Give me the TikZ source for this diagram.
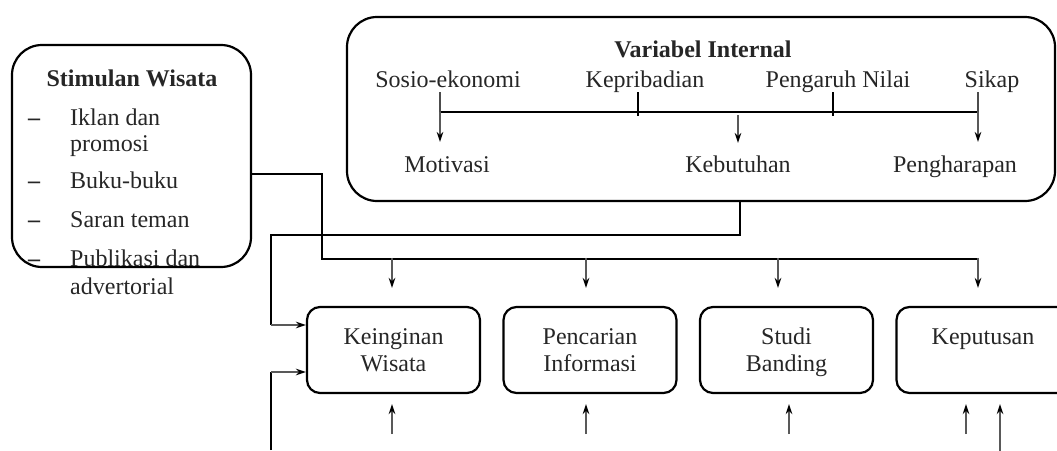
\documentclass[tikz,border=0pt]{standalone}
\usepackage{fontspec}
\setmainfont{Liberation Serif}
\usetikzlibrary{arrows.meta}

\begin{document}
\begin{tikzpicture}[x=1pt, y=-1pt,
	txt/.style={font=\fontsize{24}{27}\selectfont, inner sep=0pt, text=black!85},
	panel/.style={draw=black, line width=2.2pt, rounded corners=30pt, inner sep=0pt},
	stepbox/.style={draw=black, line width=2.2pt, rounded corners=13pt, minimum width=173pt, minimum height=86pt, align=center, inner sep=0pt, text=black!85, font=\fontsize{24}{27}\selectfont},
	bus/.style={line width=2.8pt, black},
	tickline/.style={line width=2pt, black!70},
	arr/.style={line width=2pt, black!65, -{Stealth[length=10pt,width=6.5pt,black]}},
	]
	\useasboundingbox (0,0) rectangle (1057,450);
	
	% panels
	\node[panel, minimum width=239pt, minimum height=222pt] (stimulan) at (131.5,156) {};
	\node[panel, minimum width=708pt, minimum height=184pt] (internal) at (701,109) {};
	
	% stimulan wisata
	\node[txt, anchor=base] (stitle) at (132,86) {\textbf{Stimulan Wisata}};
	\foreach \y/\t [count=\i] in {125/Iklan dan, 151/promosi, 188/Buku-buku, 227/Saran teman, 266/Publikasi dan, 294/advertorial}
	\node[txt, anchor=base west] (item\i) at (70,\y) {\t};
	\foreach \y [count=\i] in {125,188,227,266}
	\node[txt, anchor=base west] (dash\i) at (28,\y) {\textbf{--}};
	
	% variabel internal
	\node[txt, anchor=base] (ititle) at (703,57) {\textbf{Variabel Internal}};
	\node[txt, anchor=base] (sosio) at (448,87) {Sosio-ekonomi};
	\node[txt, anchor=base] (pribadi) at (645,87) {Kepribadian};
	\node[txt, anchor=base] (nilai) at (838,87) {Pengaruh Nilai};
	\node[txt, anchor=base] (sikap) at (992,87) {Sikap};
	\node[txt, anchor=base] (motivasi) at (447,172) {Motivasi};
	\node[txt, anchor=base] (kebutuhan) at (738,172) {Kebutuhan};
	\node[txt, anchor=base] (harap) at (955,172) {Pengharapan};
	
	\coordinate (jS) at (440,112);
	\coordinate (jK) at (638,112);
	\coordinate (jP) at (833,112);
	\coordinate (jH) at (978,112);
	
	\draw[bus] (jS) -- (jH);
	\draw[tickline] (jS) -- ++(0,-20);
	\draw[tickline] (jH) -- ++(0,-20);
	\draw[bus, line width=2.4pt] (jK) ++(0,-20) -- ++(0,24);
	\draw[bus, line width=2.4pt] (jP) ++(0,-20) -- ++(0,24);
	\draw[arr] (jS) -- ++(0,30);
	\draw[arr] (jH) -- ++(0,30);
	\draw[arr] (jS -| kebutuhan) ++(0,3) -- ++(0,28);
	
	% tahapan
	\node[stepbox] (keinginan) at (393.5,350) {Keinginan\\Wisata};
	\node[stepbox] (pencarian) at (590,350) {Pencarian\\Informasi};
	\node[stepbox] (studi) at (786.5,350) {Studi\\\smash{Banding}};
	\node[stepbox] (keputusan) at (983,350) {Keputusan\\\mbox{}};
	
	% stimulan ke semua tahap
	\coordinate (bus1) at (322,259);
	\coordinate (bus1end) at (978,259);
	\draw[bus] ([yshift=-18pt]stimulan.east) -| (bus1) -- (bus1end);
	\foreach \b/\dx in {keinginan/-1.5, pencarian/-4, studi/-8.5, keputusan/-5}
	\draw[arr] (\b.north) ++(\dx,-48) -- ++(0,30);
	
	% internal ke keinginan
	\coordinate (turnA) at (271,235);
	\coordinate (upperin) at ([yshift=25pt]keinginan.west);
	\coordinate (lowerin) at ([yshift=-22pt]keinginan.west);
	\coordinate (feed) at (271,450);
	\draw[bus] ([xshift=39pt]internal.south) |- (turnA) -- (turnA |- upperin);
	\draw[arr] (turnA |- upperin) -- (upperin);
	\draw[bus] (feed) -- (feed |- lowerin);
	\draw[arr] (feed |- lowerin) -- (lowerin);
	
	% masukan bawah
	\foreach \b/\dx in {keinginan/-1.5, pencarian/-4, studi/2.5, keputusan/-17}
	\draw[arr] (\b.south) ++(\dx,40) -- ++(0,-30);
	\draw[arr] (keputusan.south) ++(17,57) -- ++(0,-47);
	
\end{tikzpicture}
\end{document}
